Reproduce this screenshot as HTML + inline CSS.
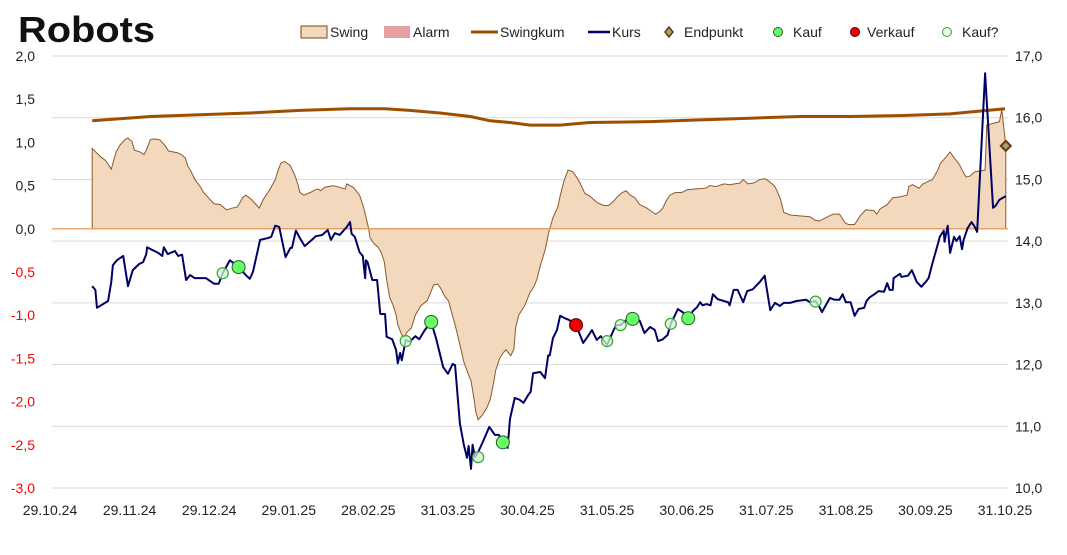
<!DOCTYPE html>
<html><head><meta charset="utf-8"><style>
body{margin:0;background:#fff;}
svg{display:block;font-family:"Liberation Sans",sans-serif;}
</style></head><body>
<svg id="chart" width="1067" height="555" viewBox="0 0 1067 555">
<text x="18" y="42" font-size="36" font-weight="bold" fill="#111" textLength="137" lengthAdjust="spacingAndGlyphs">Robots</text>
<g id="legend"></g>
<g id="grid"></g>
<g id="axes"></g>
<g id="plot"></g>
</svg>
<script>
const xTickLabels=["29.10.24","29.11.24","29.12.24","29.01.25","28.02.25","31.03.25","30.04.25","31.05.25","30.06.25","31.07.25","31.08.25","30.09.25","31.10.25"];
const leftTicks=[2,1.5,1,0.5,0,-0.5,-1,-1.5,-2,-2.5,-3];
const rightTicks=[17,16,15,14,13,12,11,10];
const kursT=[5.3,5.7,5.9,7.3,7.7,7.9,8.4,9.2,9.8,10.4,11.2,11.7,12.1,12.2,12.8,13.6,14.1,14.3,14.8,15.7,16.1,16.6,17.1,17.6,18.2,19.6,20.6,21.2,21.7,22.6,23.2,23.7,24.6,25.1,25.5,26.4,27.4,27.8,28.3,28.8,29.6,30.2,30.4,30.9,31.4,32.0,32.9,33.4,34.2,34.9,35.3,35.8,36.4,37.3,37.7,37.9,38.3,38.9,39.3,39.6,39.7,39.9,40.5,41.1,41.5,42.1,42.3,43.0,43.5,43.7,44.0,44.2,44.7,45.2,45.9,46.4,47.1,47.9,48.5,49.4,50.0,50.6,50.9,51.5,52.0,52.4,52.6,52.9,53.1,53.4,53.8,54.5,55.2,55.9,56.4,56.9,57.5,57.8,58.4,59.0,59.5,60.1,60.4,60.7,61.6,62.2,62.6,62.8,63.2,63.7,64.1,64.7,65.3,65.8,66.1,67.0,67.6,68.1,68.7,69.2,69.7,70.0,70.9,71.2,71.7,72.4,73.2,74.1,74.7,75.4,76.0,76.4,77.0,77.6,78.0,78.9,79.6,80.2,80.8,81.3,81.7,82.0,82.5,83.0,83.3,83.9,85.2,85.4,85.9,86.4,87.1,87.6,88.3,89.2,89.8,90.5,91.1,91.7,92.2,93.0,93.8,95.0,95.5,96.2,96.7,97.0,98.0,98.6,99.2,99.6,100.0,100.6,101.1,101.6,102.3,102.6,103.0,103.6,104.1,104.8,105.2,105.5,105.9,106.0,106.8,107.0,107.8,108.3,108.9,109.5,110.1,110.4,110.9,111.6,111.8,112.3,112.4,112.8,113.1,113.6,113.9,114.3,114.6,114.8,115.3,115.8,116.2,116.5,117.5,118.5,118.8,119.3,120.1];
const kursVals=[13.27,13.21,12.92,13.03,13.34,13.61,13.69,13.76,13.27,13.53,13.63,13.66,13.79,13.90,13.86,13.81,13.76,13.90,13.79,13.84,13.76,13.78,13.37,13.45,13.40,13.40,13.31,13.31,13.48,13.69,13.63,13.58,13.45,13.39,13.50,14.02,14.05,14.07,14.25,14.23,13.74,13.89,13.89,14.17,14.05,13.92,14.02,14.08,14.10,14.18,14.02,14.13,14.10,14.23,14.31,14.12,14.07,13.82,13.76,13.40,13.69,13.66,13.37,13.37,12.82,12.82,12.45,12.41,12.23,12.02,12.19,12.07,12.40,12.37,12.46,12.41,12.56,12.69,12.43,11.96,11.85,12.01,11.99,11.05,10.70,10.49,10.68,10.31,10.70,10.50,10.58,10.78,10.99,10.86,10.86,10.74,10.65,11.12,11.46,11.43,11.38,11.51,11.56,11.86,11.88,11.78,12.15,12.15,12.43,12.56,12.79,12.75,12.72,12.62,12.64,12.35,12.46,12.56,12.40,12.46,12.37,12.32,12.58,12.64,12.64,12.72,12.74,12.71,12.51,12.61,12.56,12.38,12.41,12.48,12.66,12.90,12.84,12.75,12.87,12.93,13.01,12.96,12.98,12.96,13.14,13.06,13.01,12.96,13.21,13.21,13.01,13.19,13.22,13.34,13.44,12.88,13.00,12.95,13.00,13.00,13.03,13.05,13.01,13.03,12.93,12.85,13.08,13.05,13.05,13.14,13.01,13.01,12.79,12.90,12.92,13.03,13.09,13.14,13.19,13.18,13.32,13.21,13.21,13.40,13.47,13.42,13.44,13.53,13.34,13.26,13.35,13.40,13.65,13.97,14.07,14.17,13.99,14.25,13.81,14.07,14.00,14.08,13.87,14.02,14.21,14.31,14.23,14.15,16.72,14.54,14.57,14.67,14.73];
const swingT=[5.3,6.4,7.0,7.7,8.3,8.8,9.4,9.8,10.3,10.6,11.3,11.8,12.1,12.6,13.1,13.8,14.4,14.9,16.0,16.5,17.0,17.3,17.8,18.2,18.8,19.3,20.1,20.6,21.4,21.9,22.2,22.9,23.5,23.9,24.2,24.6,25.3,25.8,26.3,26.8,27.6,28.3,28.6,29.0,29.5,30.2,30.8,31.2,31.4,31.9,32.7,33.3,33.7,34.0,34.5,35.6,36.4,37.1,37.3,38.1,38.9,39.4,40.0,40.2,40.7,41.2,41.6,42.0,42.3,42.7,43.1,43.5,43.7,44.2,44.6,44.8,45.4,45.9,46.6,47.4,47.9,48.2,48.7,49.1,49.6,50.1,50.5,50.9,51.5,52.0,52.5,52.9,53.3,53.5,53.8,54.3,54.9,55.3,55.5,55.8,56.0,56.5,56.9,57.3,57.9,58.3,58.5,58.9,59.7,60.3,60.8,61.2,61.6,62.2,62.7,63.2,63.8,64.1,64.6,65.1,65.7,66.3,66.8,67.2,67.8,68.3,68.8,69.6,70.2,70.7,71.4,71.9,72.4,72.9,73.5,74.1,75.0,75.6,76.1,76.6,77.0,77.4,77.9,78.6,79.4,80.0,81.0,82.4,82.9,83.7,84.7,85.4,86.7,87.1,87.7,88.4,89.2,89.8,90.2,91.0,91.3,91.8,92.2,93.0,94.2,95.5,96.1,96.7,97.5,98.4,99.2,99.9,100.3,101.1,101.8,102.5,103.5,103.9,104.3,105.2,105.9,106.8,107.7,107.9,108.4,109.2,109.7,110.6,110.9,111.6,111.9,112.4,113.1,113.7,114.3,114.6,115.1,115.6,116.2,117.5,117.7,119.3,119.6,120.1];
const swingVals=[0.93,0.83,0.79,0.69,0.89,0.97,1.03,1.05,1.01,0.91,0.89,0.86,0.91,1.03,1.04,1.03,0.97,0.90,0.88,0.86,0.82,0.73,0.65,0.57,0.50,0.42,0.34,0.29,0.28,0.24,0.22,0.24,0.25,0.31,0.36,0.39,0.34,0.29,0.24,0.34,0.45,0.57,0.66,0.76,0.78,0.73,0.61,0.50,0.42,0.39,0.42,0.45,0.46,0.44,0.48,0.50,0.48,0.46,0.52,0.48,0.39,0.25,0.02,-0.10,-0.17,-0.21,-0.27,-0.38,-0.59,-0.80,-0.88,-1.00,-1.11,-1.23,-1.25,-1.20,-1.15,-1.00,-0.89,-0.83,-0.72,-0.65,-0.64,-0.69,-0.78,-0.84,-0.98,-1.11,-1.34,-1.54,-1.67,-1.76,-1.98,-2.12,-2.21,-2.16,-2.07,-1.98,-1.90,-1.75,-1.64,-1.50,-1.44,-1.40,-1.47,-1.39,-1.15,-1.00,-0.88,-0.74,-0.67,-0.58,-0.43,-0.25,-0.03,0.13,0.25,0.38,0.56,0.68,0.66,0.58,0.49,0.41,0.38,0.34,0.30,0.27,0.27,0.31,0.38,0.42,0.44,0.39,0.36,0.28,0.24,0.20,0.17,0.20,0.24,0.32,0.39,0.42,0.42,0.45,0.46,0.47,0.50,0.49,0.52,0.51,0.53,0.57,0.52,0.53,0.57,0.58,0.56,0.50,0.45,0.34,0.19,0.16,0.15,0.14,0.10,0.09,0.13,0.17,0.17,0.07,0.05,0.05,0.15,0.22,0.21,0.17,0.23,0.28,0.36,0.37,0.39,0.49,0.51,0.47,0.52,0.56,0.57,0.69,0.76,0.81,0.89,0.81,0.74,0.68,0.60,0.61,0.66,0.68,1.20,1.24,1.38,0.96];
const kumT=[5.3,12.6,18.8,25.1,31.4,37.7,42.1,45.2,49.0,52.8,55.3,57.8,60.3,64.1,67.8,75.4,81.7,87.9,94.2,100.5,106.8,113.1,120.0];
const kumVals=[1.25,1.30,1.32,1.34,1.37,1.39,1.39,1.37,1.34,1.30,1.25,1.23,1.20,1.20,1.23,1.24,1.26,1.28,1.30,1.30,1.31,1.33,1.39];
const kaufT=[23.7,47.9,56.9,73.2,80.2];
const kaufVals=[13.58,12.69,10.74,12.74,12.75];
const kaufQT=[21.7,44.7,53.8,70.0,71.7,78.0,96.2];
const kaufQVals=[13.48,12.38,10.50,12.38,12.64,12.66,13.02];
const verkaufT=[66.1];
const verkaufVals=[12.64];
const endT=[120.1];
const endVals=[0.96];

const NS="http://www.w3.org/2000/svg";
const X0=50,X1=1005,Y0=56,Y1=488,PL=52,PR=1008;
const xS=t=>X0+t/120*(X1-X0);
const yL=v=>Y0+(2-v)/5*(Y1-Y0);
const yR=v=>Y0+(17-v)/7*(Y1-Y0);
function mk(tag,attrs,parent){const e=document.createElementNS(NS,tag);for(const k in attrs)e.setAttribute(k,attrs[k]);parent.appendChild(e);return e;}
const grid=document.getElementById('grid'),axes=document.getElementById('axes'),plot=document.getElementById('plot'),legend=document.getElementById('legend');

rightTicks.forEach(v=>{
  const l=mk('line',{x1:PL,x2:PR,y1:yR(v),y2:yR(v),stroke:'#d9d9d9','stroke-width':1},grid);
  
  
  const t=mk('text',{x:1015,y:yR(v)+5,'font-size':14,fill:'#222'},axes);
  t.textContent=v.toFixed(1).replace('.',',');
  
  
});
leftTicks.forEach(v=>{
  const t=mk('text',{x:35,y:yL(v)+5,'font-size':14,'text-anchor':'end',fill:v<0?'#ff0000':'#222'},axes);
  t.textContent=v.toFixed(1).replace('.',',');
  
  
});
xTickLabels.forEach((lab,i)=>{
  const t=mk('text',{x:xS(i*10),y:515,'font-size':14,'text-anchor':'middle',fill:'#222'},axes);
  t.textContent=lab;
  
  
});

let d='M'+xS(swingT[0])+','+yL(0);
swingT.forEach((t,i)=>{d+=' L'+xS(t)+','+yL(swingVals[i]);});
d+=' L'+xS(swingT[swingT.length-1])+','+yL(0)+' Z';
const area=mk('path',{d:d,fill:'#f2d8bd',stroke:'#8a5a2b','stroke-width':1},plot);


const zero=mk('line',{x1:PL,x2:PR,y1:yL(0),y2:yL(0),stroke:'#f0a060','stroke-width':1.3},plot);



const kum=mk('polyline',{points:kumT.map((t,i)=>xS(t)+','+yL(kumVals[i])).join(' '),fill:'none',stroke:'#9c4f00','stroke-width':3},plot);



const kurs=mk('polyline',{points:kursT.map((t,i)=>xS(t)+','+yR(kursVals[i])).join(' '),fill:'none',stroke:'#000066','stroke-width':2,'stroke-linejoin':'round'},plot);



kaufQT.forEach((t,i)=>{
  const c=mk('circle',{cx:xS(t),cy:yR(kaufQVals[i]),r:5.5,fill:'#d8f5d8',stroke:'#2ea82e','stroke-width':1.2,'fill-opacity':0.75},plot);
  
  
});
kaufT.forEach((t,i)=>{
  const c=mk('circle',{cx:xS(t),cy:yR(kaufVals[i]),r:6.5,fill:'#66ff66',stroke:'#2a5a2a','stroke-width':1},plot);
  
  
});
verkaufT.forEach((t,i)=>{
  const c=mk('circle',{cx:xS(t),cy:yR(verkaufVals[i]),r:6.5,fill:'#ee0000',stroke:'#550000','stroke-width':1},plot);
  
  
});
endT.forEach((t,i)=>{
  const cx=xS(t),cy=yL(endVals[i]);
  const p=mk('polygon',{points:`${cx},${cy-5} ${cx+5},${cy} ${cx},${cy+5} ${cx-5},${cy}`,fill:'#9aa870',stroke:'#6b3a10','stroke-width':2},plot);
  
  
});

function legText(x,s){const t=mk('text',{x:x,y:37,'font-size':14,fill:'#222'},legend);t.textContent=s;return t;}
let e;
e=mk('rect',{x:301,y:26,width:26,height:12,fill:'#f2d8bd',stroke:'#7a4a1a','stroke-width':1},legend);

e=legText(330,'Swing');
e=mk('rect',{x:384,y:26,width:26,height:12,fill:'#e6a0a0'},legend);

e=legText(413,'Alarm');
e=mk('line',{x1:471,x2:498,y1:32,y2:32,stroke:'#9c4f00','stroke-width':3},legend);

e=legText(500,'Swingkum');
e=mk('line',{x1:588,x2:610,y1:32,y2:32,stroke:'#000066','stroke-width':2.5},legend);

e=legText(612,'Kurs');
e=mk('polygon',{points:'669,27 673,32 669,37 665,32',fill:'#9aa870',stroke:'#6b3a10','stroke-width':1.5},legend);

e=legText(684,'Endpunkt');
e=mk('circle',{cx:778,cy:32,r:4.5,fill:'#66ff66',stroke:'#2a5a2a','stroke-width':1},legend);

e=legText(793,'Kauf');
e=mk('circle',{cx:855,cy:32,r:4.5,fill:'#ee0000',stroke:'#550000','stroke-width':1},legend);

e=legText(867,'Verkauf');
e=mk('circle',{cx:947,cy:32,r:4.5,fill:'#e8fae8',stroke:'#2ea82e','stroke-width':1},legend);

e=legText(962,'Kauf?');
</script>
</body></html>
